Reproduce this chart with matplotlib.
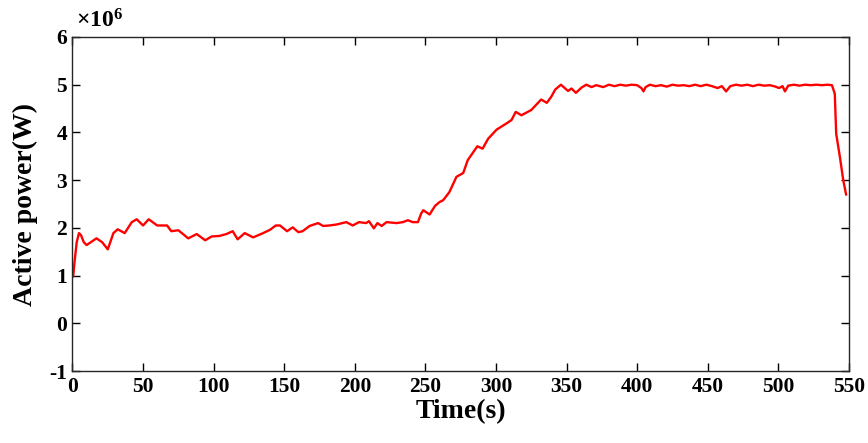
import matplotlib
matplotlib.use("Agg")
import matplotlib.pyplot as plt
from matplotlib.ticker import FuncFormatter, MultipleLocator

plt.rcParams["font.family"] = ["Liberation Serif", "DejaVu Serif"]
plt.rcParams["font.weight"] = "bold"
plt.rcParams["axes.unicode_minus"] = False
plt.rcParams["mathtext.fontset"] = "custom"
plt.rcParams["mathtext.rm"] = "Liberation Serif:bold"
plt.rcParams["mathtext.default"] = "regular"

# Measured active power of the unit (in MW) against time (s)
time_s = [
    0, 0.5, 1.5, 3, 4.6, 6, 8, 10, 14, 17, 21, 25, 29, 32, 37, 42, 45.5, 50,
    54, 60, 67, 70, 75, 82, 88, 94, 98.6, 104, 109, 113.5, 117, 122, 128, 135,
    140, 144, 147, 152, 156, 160, 163, 168, 174, 177.5, 182, 187, 194, 198.5,
    203, 208, 210, 213.5, 216, 219, 222.5, 229.6, 234, 237.6, 241, 244.7, 247,
    248.5, 253, 256.8, 260, 262.6, 267, 272, 276.8, 280, 284, 286.8, 290.5,
    294.5, 300.5, 307.5, 311, 314, 318, 325, 332, 336, 339, 342, 346, 351,
    353.5, 356.6, 360.6, 364, 367.7, 371, 376, 380, 384, 388, 392, 396, 400,
    403, 404.5, 406, 409, 413, 417, 421, 425, 429, 433, 437, 441, 445, 449,
    453, 457, 460, 463, 466, 470, 474, 478, 482, 486, 490, 494, 498, 500.5,
    503, 504.7, 507, 511, 515, 519, 523, 527, 531, 535, 538, 540, 541, 543.6,
    546, 548,
]
power_mw = [
    0.98, 0.98, 1.30, 1.70, 1.89, 1.85, 1.70, 1.64, 1.72, 1.78, 1.70, 1.55,
    1.89, 1.97, 1.89, 2.12, 2.18, 2.05, 2.18, 2.05, 2.05, 1.93, 1.95, 1.78,
    1.87, 1.74, 1.82, 1.83, 1.87, 1.93, 1.76, 1.89, 1.80, 1.89, 1.96, 2.05,
    2.05, 1.93, 2.01, 1.91, 1.93, 2.04, 2.10, 2.04, 2.05, 2.07, 2.12, 2.05,
    2.12, 2.10, 2.14, 1.99, 2.10, 2.04, 2.12, 2.10, 2.12, 2.16, 2.12, 2.12,
    2.30, 2.37, 2.28, 2.46, 2.54, 2.58, 2.75, 3.07, 3.15, 3.42, 3.59, 3.71,
    3.66, 3.87, 4.06, 4.19, 4.26, 4.43, 4.36, 4.47, 4.69, 4.62, 4.74, 4.90,
    5.00, 4.87, 4.92, 4.83, 4.94, 5.00, 4.95, 4.99, 4.95, 5.00, 4.97, 5.00,
    4.98, 5.00, 4.99, 4.93, 4.86, 4.95, 5.00, 4.97, 4.99, 4.96, 5.00, 4.98,
    4.99, 4.97, 5.00, 4.97, 5.00, 4.97, 4.93, 4.97, 4.86, 4.97, 5.00, 4.98,
    5.00, 4.97, 5.00, 4.98, 4.99, 4.96, 4.93, 4.97, 4.86, 4.98, 5.00, 4.98,
    5.00, 4.99, 5.00, 4.99, 5.00, 4.99, 4.81, 3.97, 3.49, 3.00, 2.70,
]
power_w = [p * 1e6 for p in power_mw]

x_ticks = list(range(0, 551, 50))

fig = plt.figure(figsize=(8.68, 4.43), dpi=100)
ax = fig.add_axes([0.0835, 0.1625, 0.8945, 0.754])
ax.plot(time_s, power_w, color="#ff0000", linewidth=1.7)

ax.set_xlim(0, 550)
ax.set_ylim(-1e6, 6e6)
ax.set_xticks(x_ticks)
ax.yaxis.set_major_locator(MultipleLocator(1e6))
ax.yaxis.set_major_formatter(FuncFormatter(lambda v, _: f"{v / 1e6:g}"))

ax.tick_params(direction="in", length=6, width=1.0, top=True, right=True,
               labelsize=15.5, pad=4)
for lab in ax.get_xticklabels() + ax.get_yticklabels():
    lab.set_fontweight("bold")
for sp in ax.spines.values():
    sp.set_linewidth(1.0)
    sp.set_color("#262626")

# exponent of the power axis
ax.text(0.004, 1.012, r"$\times$10$^{6}$", transform=ax.transAxes,
        fontsize=17, fontweight="bold", ha="left", va="bottom")

ax.set_xlabel("Time(s)", fontsize=20, fontweight="bold", labelpad=2)
ax.set_ylabel("Active power(W)", fontsize=20, fontweight="bold", labelpad=8)

fig.savefig("out.png", dpi=100)
